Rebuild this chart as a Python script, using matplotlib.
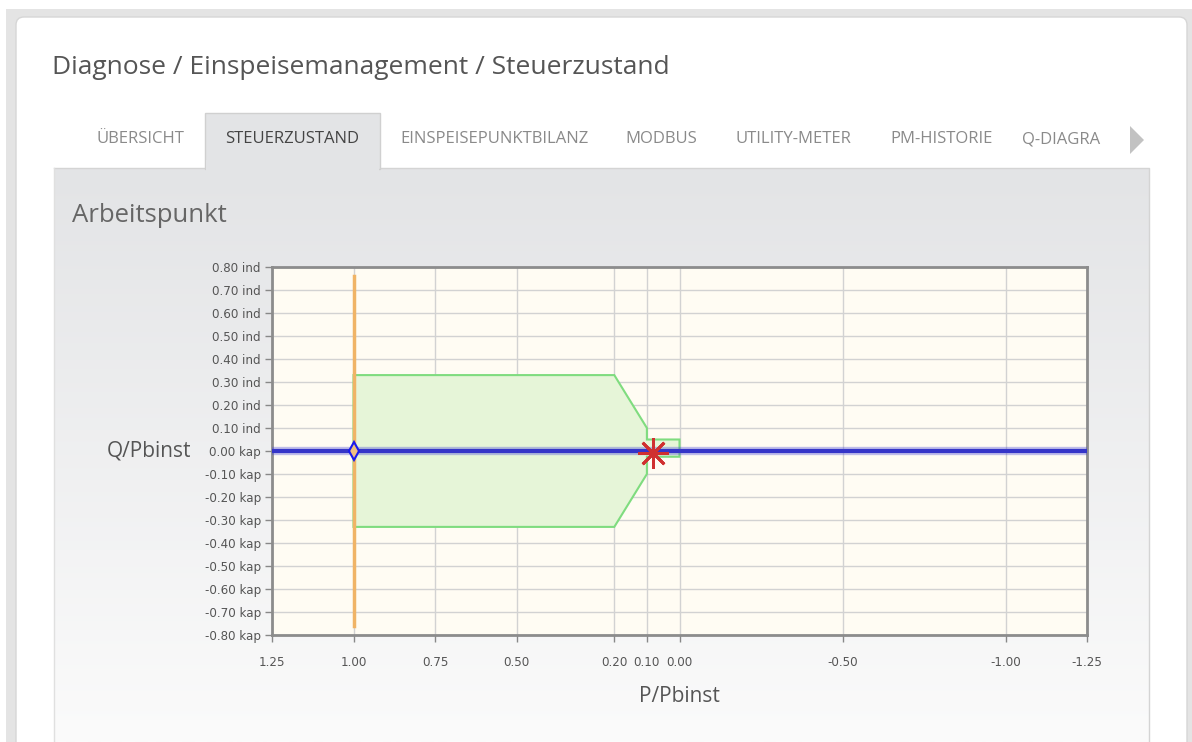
import numpy as np
import matplotlib
matplotlib.use('Agg')
import matplotlib.pyplot as plt
from matplotlib.patches import Rectangle, FancyBboxPatch, Polygon

# Daten
x_ticks = [1.25, 1.00, 0.75, 0.50, 0.20, 0.10, 0.00, -0.50, -1.00, -1.25]
x_ticklabels = ['1.25', '1.00', '0.75', '0.50', '0.20', '0.10', '0.00', '-0.50', '-1.00', '-1.25']
y_ticks = [0.8, 0.7, 0.6, 0.5, 0.4, 0.3, 0.2, 0.1, 0.0, -0.1, -0.2, -0.3, -0.4, -0.5, -0.6, -0.7, -0.8]
y_ticklabels = ['0.80 ind', '0.70 ind', '0.60 ind', '0.50 ind', '0.40 ind', '0.30 ind', '0.20 ind',
                '0.10 ind', '0.00 kap', '-0.10 kap', '-0.20 kap', '-0.30 kap', '-0.40 kap',
                '-0.50 kap', '-0.60 kap', '-0.70 kap', '-0.80 kap']

# erlaubter Bereich (gruen)
bereich_p = [1.00, 0.20, 0.10, 0.10, 0.00, 0.00, 0.10, 0.10, 0.20, 1.00]
bereich_q = [0.33, 0.33, 0.10, 0.05, 0.05, -0.025, -0.025, -0.10, -0.33, -0.33]

# Grenze P (orange)
grenze_p = [1.00, 1.00]
grenze_q = [0.76, -0.76]

# Sollwert Q (blau)
soll_p = [1.25, -1.25]
soll_q = [0.0, 0.0]

# Arbeitspunkt
raute_p, raute_q = 1.00, 0.00
ist_p, ist_q = 0.08, -0.01

tabs = ['ÜBERSICHT', 'STEUERZUSTAND', 'EINSPEISEPUNKTBILANZ', 'MODBUS', 'UTILITY-METER', 'PM-HISTORIE', 'Q-DIAGRA']
tab_x = [140, 292, 494, 661, 793, 942, 1061]

W, H = 1192, 742
fig = plt.figure(figsize=(W / 100, H / 100), dpi=100, facecolor='white')
plt.rcParams['font.family'] = ['Open Sans', 'DejaVu Sans']

# Hintergrund in Pixelkoordinaten
bg = fig.add_axes([0, 0, 1, 1])
bg.set_xlim(0, W)
bg.set_ylim(H, 0)
bg.axis('off')

bg.add_patch(Rectangle((6, 9), W, H, facecolor='#e4e4e4', edgecolor='none'))
bg.add_patch(FancyBboxPatch((16, 17), 1171, 760, boxstyle='round,pad=0,rounding_size=8',
                            facecolor='white', edgecolor='#d6d6d6', lw=1))

# Panel mit Verlauf
grad = np.linspace(0, 1, 200).reshape(-1, 1)
bg.imshow(grad, extent=(54, 1149, 742, 168), cmap=matplotlib.colors.LinearSegmentedColormap.from_list(
    'g', ['#e3e4e6', '#fbfbfb']), aspect='auto', zorder=1)
bg.plot([54, 1149, 1149], [168, 168, 742], color='#d4d4d4', lw=1, zorder=2)
bg.plot([54, 54], [168, 742], color='#e0e0e0', lw=1, zorder=2)

# aktiver Tab
bg.add_patch(Rectangle((205, 113), 175, 56, facecolor='#e3e4e6', edgecolor='#d0d0d0', lw=1, zorder=3))
bg.add_patch(Rectangle((206, 160), 173, 12, facecolor='#e3e4e6', edgecolor='none', zorder=4))

for t, x in zip(tabs, tab_x):
    bg.text(x, 139, t, ha='center', va='center', fontsize=12,
            color='#444444' if t == 'STEUERZUSTAND' else '#8a8a8a', zorder=5)
bg.add_patch(Polygon([[1130, 126], [1130, 154], [1144, 140]], closed=True,
                     facecolor='#c2c2c2', edgecolor='none', zorder=5))

bg.text(52, 67, 'Diagnose / Einspeisemanagement / Steuerzustand', ha='left', va='center',
        fontsize=19, color='#555555')
bg.text(72, 216, 'Arbeitspunkt', ha='left', va='center', fontsize=18.5, color='#666666', zorder=5)
bg.text(149, 451, 'Q/Pbinst', ha='center', va='center', fontsize=15, color='#555555', zorder=5)
bg.text(679, 697, 'P/Pbinst', ha='center', va='center', fontsize=15, color='#555555', zorder=5)

# Diagramm
ax = fig.add_axes([272 / W, (H - 635) / H, (1087 - 272) / W, (635 - 267) / H])
ax.set_facecolor('#fffcf3')
ax.set_xlim(1.25, -1.25)
ax.set_ylim(-0.8, 0.8)

ax.fill(bereich_p, bereich_q, facecolor='#e6f5d8', edgecolor='#7fdc7f', lw=1.5, zorder=2)
ax.plot(grenze_p, grenze_q, color='#f0b466', lw=2.5, zorder=3)
ax.plot(soll_p, soll_q, color='#4a4ad8', lw=6, alpha=0.35, zorder=4, solid_capstyle='butt')
ax.plot(soll_p, soll_q, color='#3535c8', lw=3, zorder=4, solid_capstyle='butt')
ax.plot(raute_p, raute_q, marker='d', ms=9, mfc='#f0c080', mec='#1a1aee', mew=1.5, zorder=5)
ax.plot(ist_p, ist_q, marker=(8, 2, 0), ms=22, color='#d03030', mew=2, zorder=6)

ax.set_xticks(x_ticks)
ax.set_xticklabels(x_ticklabels)
ax.set_yticks(y_ticks)
ax.set_yticklabels(y_ticklabels)
for lbl in ax.get_xticklabels() + ax.get_yticklabels():
    lbl.set_family('DejaVu Sans')
ax.grid(True, color='#d2d2d2', lw=1)
ax.set_axisbelow(True)
ax.tick_params(axis='both', colors='#888888', labelcolor='#555555', labelsize=8.6, length=5, width=1)
ax.tick_params(axis='x', pad=10)
ax.tick_params(axis='y', pad=3)
for s in ax.spines.values():
    s.set_color('#8c8c8c')
    s.set_linewidth(2)

fig.savefig('out.png', dpi=100, facecolor=fig.get_facecolor())
